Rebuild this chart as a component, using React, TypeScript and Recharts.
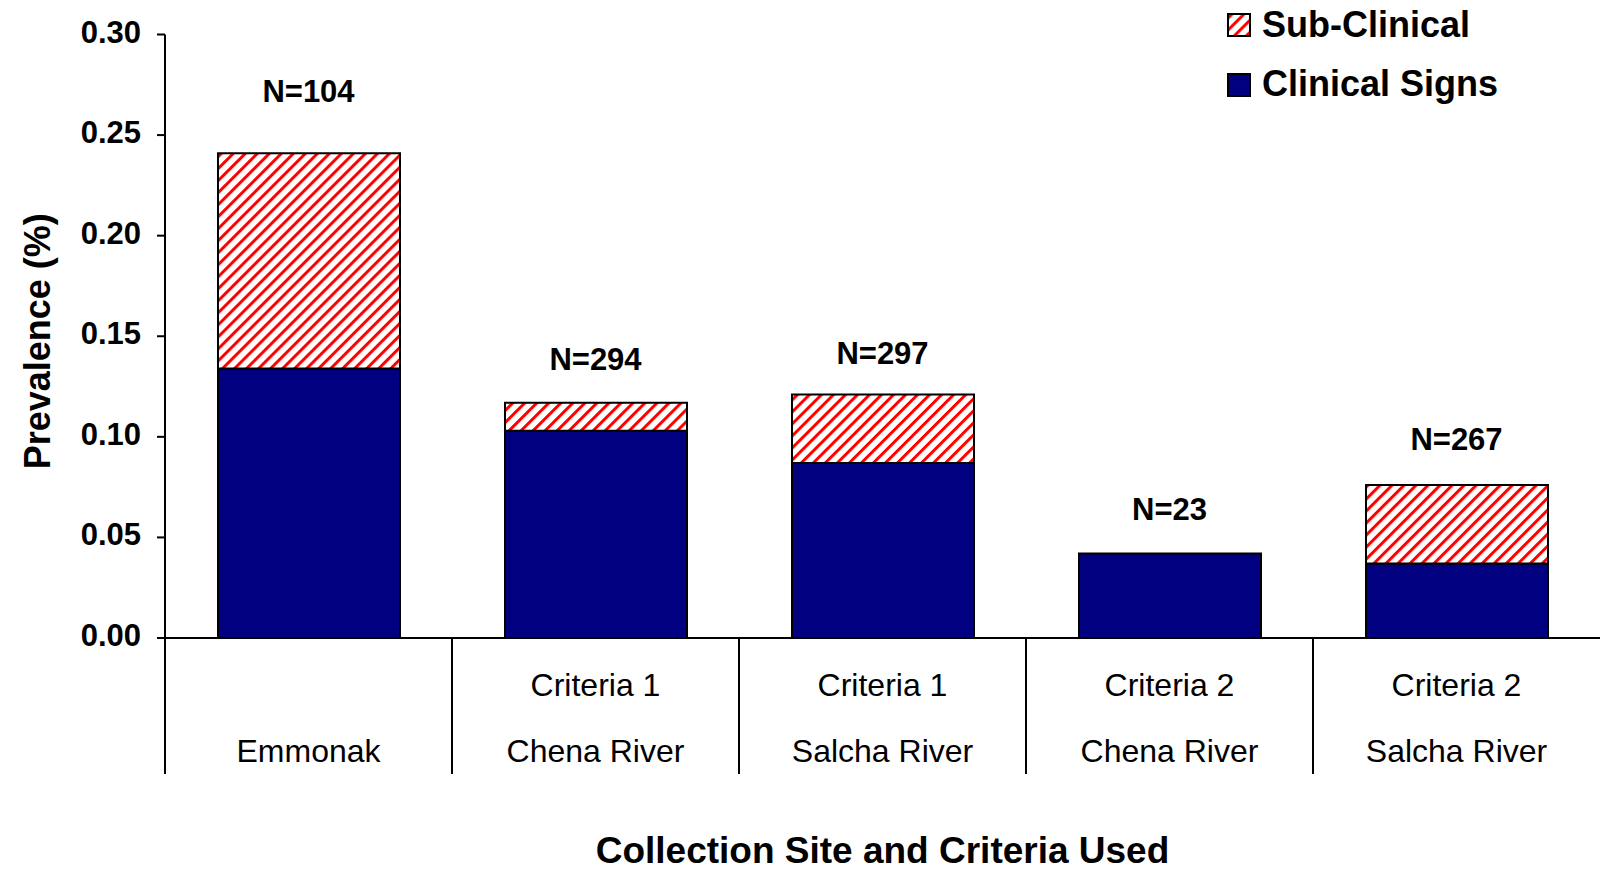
import React from "react";
import { Bar, BarChart, Legend, ReferenceDot, XAxis, YAxis } from "recharts";

// values
const sites = ["Emmonak", "Chena River", "Salcha River", "Chena River", "Salcha River"];
const criteria = ["", "Criteria 1", "Criteria 1", "Criteria 2", "Criteria 2"];
const clinicalSigns = [0.134, 0.103, 0.087, 0.042, 0.037];
const subClinical = [0.107, 0.014, 0.034, 0, 0.039];
const sampleSizes = ["N=104", "N=294", "N=297", "N=23", "N=267"];
const yTicks = [0, 0.05, 0.1, 0.15, 0.2, 0.25, 0.3];

// how far each N label sits above its bar (text boxes were placed by hand)
const labelLift = [51, 33, 31, 34, 35];

const FONT = "'Liberation Sans', Arial, Helvetica, sans-serif";
const CHART_W = 1600;
const CHART_H = 872;
const Y_AXIS_W = 165;
const HALF_BAND = (CHART_W - Y_AXIS_W) / sites.length / 2;

const data = sites.map((site, i) => ({
  id: i,
  site,
  clinical: clinicalSigns[i],
  sub: subClinical[i],
}));

const YTick = (props: any) => {
  const { x, y, payload } = props;
  return (
    <text x={x} y={y} dy={8} textAnchor="end" fontFamily={FONT} fontSize={31} fontWeight="bold" fill="#000">
      {Number(payload.value).toFixed(2)}
    </text>
  );
};

const CategoryTick = (props: any) => {
  const { x, y, index } = props;
  return (
    <g>
      <line x1={x - HALF_BAND} x2={x - HALF_BAND} y1={y} y2={y + 136} stroke="#000" strokeWidth={2} />
      <text x={x} y={y + 58} textAnchor="middle" fontFamily={FONT} fontSize={32} fill="#000">
        {criteria[index]}
      </text>
      <text x={x} y={y + 124} textAnchor="middle" fontFamily={FONT} fontSize={32} fill="#000">
        {sites[index]}
      </text>
    </g>
  );
};

const XTitle = (props: any) => {
  const vb = props.viewBox;
  return (
    <text
      x={vb.x + vb.width / 2}
      y={vb.y + vb.height - 9}
      textAnchor="middle"
      fontFamily={FONT}
      fontSize={37}
      fontWeight="bold"
      fill="#000"
    >
      Collection Site and Criteria Used
    </text>
  );
};

const YTitle = (props: any) => {
  const vb = props.viewBox;
  const cx = vb.x + 50;
  const cy = vb.y + vb.height / 2 + 5;
  return (
    <text
      x={cx}
      y={cy}
      transform={`rotate(-90, ${cx}, ${cy})`}
      textAnchor="middle"
      fontFamily={FONT}
      fontSize={36}
      fontWeight="bold"
      fill="#000"
    >
      Prevalence (%)
    </text>
  );
};

const NLabel = (props: any) => {
  const { viewBox, index } = props;
  return (
    <text
      x={viewBox.x + viewBox.width / 2}
      y={viewBox.y + viewBox.height / 2 - labelLift[index]}
      textAnchor="middle"
      fontFamily={FONT}
      fontSize={31}
      fontWeight="bold"
      fill="#000"
    >
      {sampleSizes[index]}
    </text>
  );
};

const LegendBox = () => (
  <svg width={380} height={110} style={{ display: "block" }}>
    <rect x={8} y={14} width={22} height={22} fill="url(#hatch)" stroke="#000" strokeWidth={2} />
    <text x={42} y={37} fontFamily={FONT} fontSize={36} fontWeight="bold" fill="#000">
      Sub-Clinical
    </text>
    <rect x={8} y={74} width={22} height={22} fill="#000080" stroke="#000" strokeWidth={2} />
    <text x={42} y={96} fontFamily={FONT} fontSize={36} fontWeight="bold" fill="#000">
      Clinical Signs
    </text>
  </svg>
);

export default function App() {
  return (
    <div style={{ position: "absolute", left: 0, top: 0, width: CHART_W, height: CHART_H, background: "#fff" }}>
      <BarChart
        width={CHART_W}
        height={CHART_H}
        data={data}
        margin={{ top: 34.5, right: 0, left: 0, bottom: 0 }}
      >
        <defs>
          <pattern id="hatch" patternUnits="userSpaceOnUse" width="8.5" height="8.5" patternTransform="rotate(45)">
            <rect width="8.5" height="8.5" fill="#ffffff" />
            <rect width="3" height="8.5" fill="#ff0000" />
          </pattern>
        </defs>
        <XAxis
          dataKey="id"
          type="category"
          height={234}
          interval={0}
          tickSize={0}
          tickMargin={0}
          tickLine={false}
          axisLine={{ stroke: "#000", strokeWidth: 2 }}
          tick={<CategoryTick />}
          label={<XTitle />}
        />
        <YAxis
          width={Y_AXIS_W}
          domain={[0, 0.3]}
          ticks={yTicks}
          interval={0}
          tickSize={8}
          tickMargin={16}
          tickLine={{ stroke: "#000", strokeWidth: 2 }}
          axisLine={{ stroke: "#000", strokeWidth: 2 }}
          tick={<YTick />}
          label={<YTitle />}
        />
        <Legend
          layout="horizontal"
          verticalAlign="middle"
          align="center"
          wrapperStyle={{ top: 0, left: 1220, width: 380, height: 110 }}
          content={<LegendBox />}
        />
        <Bar
          dataKey="clinical"
          name="Clinical Signs"
          stackId="a"
          fill="#000080"
          stroke="#000"
          strokeWidth={2}
          barSize={182}
          isAnimationActive={false}
        />
        <Bar
          dataKey="sub"
          name="Sub-Clinical"
          stackId="a"
          fill="url(#hatch)"
          stroke="#000"
          strokeWidth={2}
          barSize={182}
          isAnimationActive={false}
        />
        {data.map((d, i) => (
          <ReferenceDot
            key={i}
            x={d.id}
            y={d.clinical + d.sub}
            r={1}
            fill="none"
            stroke="none"
            ifOverflow="visible"
            label={<NLabel index={i} />}
          />
        ))}
      </BarChart>
    </div>
  );
}
